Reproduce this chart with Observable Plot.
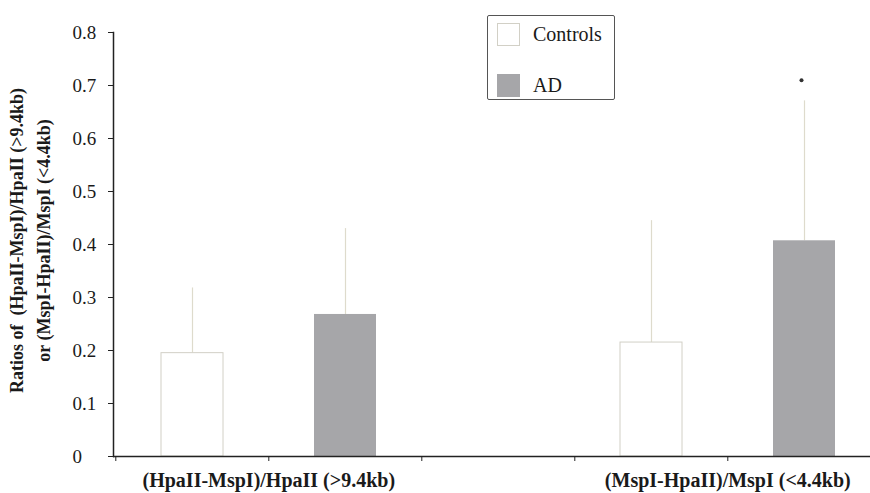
<!DOCTYPE html>
<html>
<head>
<meta charset="utf-8">
<script src="https://cdn.jsdelivr.net/npm/d3@7"></script>
<script src="https://cdn.jsdelivr.net/npm/@observablehq/plot@0.6"></script>
<style>
  html, body { margin: 0; padding: 0; background: #fff; }
  #wrap { position: relative; width: 870px; height: 493px; font-family: "Liberation Serif", "Times New Roman", serif; color: #1a1a1a; }
  #legend { position: absolute; left: 487px; top: 15px; width: 126px; height: 83px; border: 1.5px solid #555; border-radius: 2px; box-sizing: content-box; }
  .item { position: absolute; left: 9px; display: flex; align-items: center; font-size: 20px; }
  .sw { width: 23px; height: 23px; margin-right: 13px; box-sizing: border-box; }
</style>
</head>
<body>
<div id="wrap"></div>
<script>
// ---- data ----
const slots = ["HpaII-Controls", "HpaII-AD", "spacer", "MspI-Controls", "MspI-AD"];
const groupKeys = ["HpaII", "MspI"];
const groupLabels = ["(HpaII-MspI)/HpaII (>9.4kb)", "(MspI-HpaII)/MspI (<4.4kb)"];
const seriesNames = ["Controls", "AD"];
const seriesColors = ["#ffffff", "#a6a6a9"];
const controlsMean = [0.195, 0.215];
const adMean = [0.268, 0.407];
const controlsErrTop = [0.318, 0.445];
const adErrTop = [0.43, 0.671];
const adMarker = [null, 0.71];
const yTicks = [0, 0.1, 0.2, 0.3, 0.4, 0.5, 0.6, 0.7, 0.8];
const yTitle = "Ratios of  (HpaII-MspI)/HpaII (>9.4kb)\nor (MspI-HpaII)/MspI (<4.4kb)";

// ---- tables built from arrays ----
const rows = groupKeys.flatMap((g, i) => [
  {slot: `${g}-Controls`, series: "Controls", mean: controlsMean[i], top: controlsErrTop[i]},
  {slot: `${g}-AD`, series: "AD", mean: adMean[i], top: adErrTop[i]}
]);
const markers = groupKeys.map((g, i) => ({slot: `${g}-AD`, value: adMarker[i]})).filter(d => d.value != null);
const groupRows = groupKeys.map((g, i) => ({slot: `${g}-AD`, label: groupLabels[i]}));

const width = 870, height = 493;
const xRange = [114, 881];
const step = (xRange[1] - xRange[0]) / slots.length;
const fmt = d => d === 0 ? "0" : d3.format(".1f")(d);

const chart = Plot.plot({
  width, height,
  marginLeft: 113, marginRight: 0, marginTop: 32, marginBottom: 37,
  style: {fontFamily: '"Liberation Serif", "Times New Roman", serif', color: "#1a1a1a", background: "transparent"},
  x: {domain: slots, range: xRange, paddingInner: 0.596, paddingOuter: 0.298, axis: null, label: null},
  y: {domain: [0, 0.8], axis: null, label: null},
  color: {domain: seriesNames, range: seriesColors},
  marks: [
    // error bars (faint)
    Plot.ruleX(rows, {x: "slot", y1: "mean", y2: "top", stroke: "#dedbcc", strokeWidth: 1.2}),
    // bars
    Plot.barY(rows.filter(d => d.series === "Controls"), {x: "slot", y: "mean", fill: "series", stroke: "#d2d0c6", strokeWidth: 1}),
    Plot.barY(rows.filter(d => d.series === "AD"), {x: "slot", y: "mean", fill: "series"}),
    // significance marker
    Plot.dot(markers, {x: "slot", y: "value", r: 2, fill: "#333", dx: -3}),
    // y axis line & ticks
    Plot.frame({anchor: "left", stroke: "#222", strokeWidth: 1.5}),
    Plot.axisY({ticks: yTicks, tickSize: 5, tickFormat: () => "", stroke: "#222", label: null}),
    Plot.text(yTicks, {y: d => d, text: fmt, frameAnchor: "left", dx: -41, textAnchor: "start", fontSize: 19, fill: "#1a1a1a"}),
    // x axis line & boundary ticks
    Plot.ruleY([0], {stroke: "#222", strokeWidth: 1.5}),
    Plot.axisX({ticks: slots, tickSize: 5, tickFormat: () => "", dx: -step / 2, stroke: "#222", label: null}),
    Plot.text(groupRows, {x: "slot", y: 0, text: "label", dx: -step / 2, dy: 24, fontSize: 20, fontWeight: "bold", fill: "#1a1a1a"}),
    // y axis title
    Plot.text([yTitle], {frameAnchor: "left", textAnchor: "middle", rotate: -90, dx: -86, dy: -4, fontSize: 18, fontWeight: "bold", lineHeight: 1.5, fill: "#1a1a1a"})
  ]
});

const wrap = document.getElementById("wrap");
wrap.appendChild(chart);

// legend
const legend = document.createElement("div");
legend.id = "legend";
const legendTops = [7, 58];
seriesNames.forEach((name, i) => {
  const item = document.createElement("div");
  item.className = "item";
  item.style.top = legendTops[i] + "px";
  const sw = document.createElement("div");
  sw.className = "sw";
  sw.style.background = chart.scale("color").apply(name);
  sw.style.border = name === "Controls" ? "1px solid #d2d0c6" : "none";
  const label = document.createElement("span");
  label.textContent = name;
  item.appendChild(sw);
  item.appendChild(label);
  legend.appendChild(item);
});
wrap.appendChild(legend);
</script>
</body>
</html>
